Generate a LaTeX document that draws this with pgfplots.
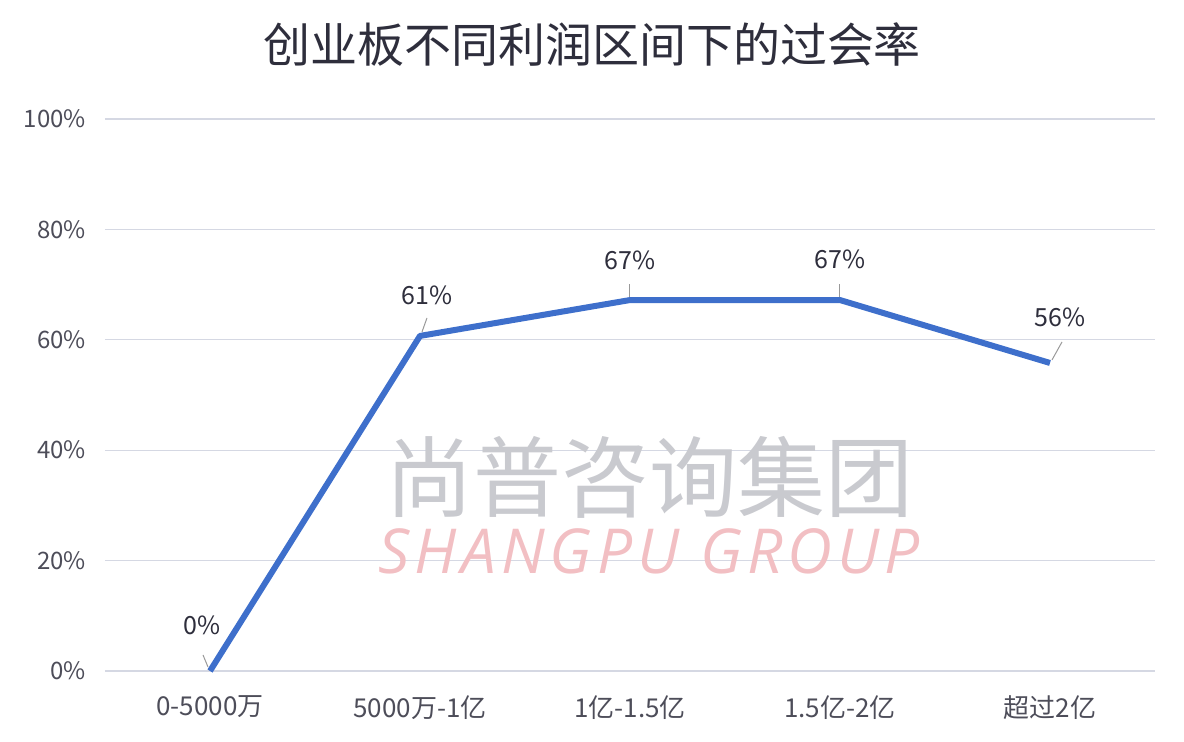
\documentclass[border=0pt]{standalone}
\usepackage{pgfplots}
\pgfplotsset{compat=1.18}
\usepackage{fontspec}
\setmainfont{Noto Sans CJK SC}
\newfontfamily\wmfont{Open Sans}[LetterSpace=8]
\definecolor{linec}{HTML}{3E6FCB}
\definecolor{gridc}{HTML}{D5D8E3}
\definecolor{txt}{HTML}{2E2E3C}
\definecolor{wmgray}{HTML}{C9CACF}
\definecolor{wmpink}{HTML}{F2BFC3}
\begin{document}
\begin{tikzpicture}[x=1pt,y=1pt]
\useasboundingbox (-52.5,-35.5) rectangle (539.5,335.5);
\begin{axis}[
  at={(0,0)}, anchor=south west,
  scale only axis, width=525pt, height=276pt,
  xmin=-0.5, xmax=4.5, ymin=0, ymax=100,
  xtick={0,1,2,3,4},
  xticklabels={0-5000万,5000万-1亿,1亿-1.5亿,1.5亿-2亿,超过2亿},
  ytick={0,20,40,60,80,100},
  yticklabel={\pgfmathprintnumber{\tick}\%},
  /pgf/number format/assume math mode=true,
  ymajorgrids, grid style={gridc, line width=0.6pt},
  axis line style={draw=none},
  major tick length=0pt,
  yticklabel style={font=\fontsize{12}{14}\selectfont, text=txt!85, xshift=-6pt},
  xticklabel style={font=\fontsize{13}{15}\selectfont, text=txt!85, yshift=-9pt},
  clip=false,
]
\node[font=\fontsize{44}{48}\selectfont, text=wmgray] at (axis cs:2.095,35) {尚普咨询集团};
\node[font=\wmfont\itshape\fontsize{31}{34}\selectfont, text=wmpink] at (axis cs:2.09,21.6) {SHANGPU GROUP};
\addplot[linec, line width=3pt, line join=round, mark=none] coordinates {
  (0,0) (1,60.7) (2,67.2) (3,67.2) (4,55.8)
};
% data labels with leader lines
\draw[gray!80, line width=0.5pt] (axis cs:0,0) ++(-1pt,2pt) -- ++(-2.5pt,6pt);
\node[font=\fontsize{12.5}{14}\selectfont, text=txt] at ([shift={(-4pt,23pt)}]axis cs:0,0) {0\%};
\draw[gray!80, line width=0.5pt] (axis cs:1,60.7) ++(1pt,2pt) -- ++(2.5pt,7pt);
\node[font=\fontsize{12.5}{14}\selectfont, text=txt] at ([shift={(3.5pt,20.5pt)}]axis cs:1,60.7) {61\%};
\draw[gray!80, line width=0.5pt] (axis cs:2,67.2) ++(0pt,1.5pt) -- ++(0pt,6.5pt);
\node[font=\fontsize{12.5}{14}\selectfont, text=txt] at ([shift={(0pt,20pt)}]axis cs:2,67.2) {67\%};
\draw[gray!80, line width=0.5pt] (axis cs:3,67.2) ++(0pt,1.5pt) -- ++(0pt,6.5pt);
\node[font=\fontsize{12.5}{14}\selectfont, text=txt] at ([shift={(0pt,20.5pt)}]axis cs:3,67.2) {67\%};
\draw[gray!80, line width=0.5pt] (axis cs:4,55.8) ++(1pt,1.5pt) -- ++(5pt,9pt);
\node[font=\fontsize{12.5}{14}\selectfont, text=txt] at ([shift={(5pt,23pt)}]axis cs:4,55.8) {56\%};
\end{axis}
\node[font=\fontsize{23.5}{28}\selectfont, text=txt] at (243.5,313) {创业板不同利润区间下的过会率};
\end{tikzpicture}
\end{document}
